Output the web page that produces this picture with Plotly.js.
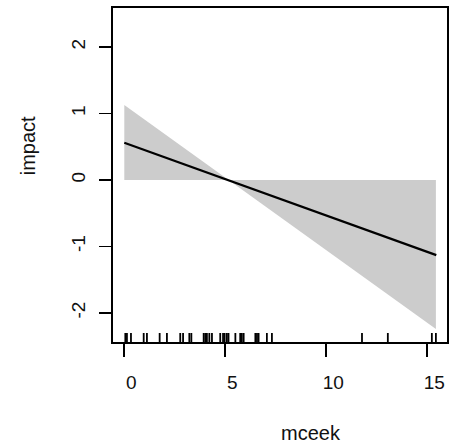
<!DOCTYPE html>
<html>
<head>
<meta charset="utf-8">
<script src="https://cdn.plot.ly/plotly-3.0.1.min.js"></script>
<style>html,body{margin:0;padding:0;background:#fff;}#chart{width:449px;height:446px;}</style>
</head>
<body>
<div id="chart"></div>
<script>
// Fitted line (mceek vs impact)
const fitX = [0, 15.45];
const fitY = [0.56, -1.13];
// Shaded band: between zero line and edge line
const bandX = [0, 15.43];
const bandBase = [0, 0];
const bandEdge = [1.13, -2.24];
// Rug (observed mceek values)
const rugX = [0.05, 0.13, 0.33, 0.96, 1.12, 1.75, 2.11, 2.77, 2.91, 3.22, 3.32,
  3.93, 4.01, 4.09, 4.21, 4.34, 4.75, 4.89, 4.97, 5.08, 5.16, 5.50, 5.74, 5.82,
  5.91, 6.49, 6.57, 6.65, 7.06, 7.31, 11.77, 13.05, 15.23, 15.43];
// Axis ticks
const xTicks = [0, 5, 10, 15];
const yTicks = [-2, -1, 0, 1, 2];
const xTitle = 'mceek';
const yTitle = 'impact';

const band = {
  x: bandX.concat(bandX.slice().reverse()),
  y: bandBase.concat(bandEdge.slice().reverse()),
  type: 'scatter', mode: 'lines', fill: 'toself',
  fillcolor: '#cccccc', line: {width: 0, color: 'rgba(0,0,0,0)'},
  hoverinfo: 'skip', showlegend: false
};
const fit = {
  x: fitX, y: fitY, type: 'scatter', mode: 'lines',
  line: {color: '#000', width: 2.2}, showlegend: false
};

const rugShapes = rugX.map(v => ({
  type: 'line', xref: 'x', yref: 'paper', x0: v, x1: v, y0: 0, y1: 0.027,
  line: {color: '#000', width: 1.8}
}));

const font = {family: 'Liberation Sans, Arial, sans-serif', color: '#111'};

const layout = {
  width: 449, height: 446,
  margin: {l: 112.7, r: 2.3, t: 8.3, b: 104.3},
  paper_bgcolor: '#fff', plot_bgcolor: '#fff',
  showlegend: false,
  font: Object.assign({size: 19}, font),
  xaxis: {
    range: [-0.56, 15.98], tickmode: 'array', tickvals: xTicks,
    ticktext: xTicks.map(String),
    showgrid: false, zeroline: false,
    showline: true, mirror: true, linecolor: '#000', linewidth: 1.8,
    ticks: 'outside', ticklen: 13, tickwidth: 1.8, tickcolor: '#000',
    tickfont: Object.assign({size: 19}, font),
    ticklabelshift: 7, ticklabelstandoff: 9
  },
  yaxis: {
    range: [-2.437, 2.588], tickmode: 'array', tickvals: yTicks,
    ticktext: yTicks.map(String),
    showgrid: false, zeroline: false,
    showline: true, mirror: true, linecolor: '#000', linewidth: 1.8,
    ticks: 'outside', ticklen: 12.7, tickwidth: 1.8, tickcolor: '#000',
    tickangle: -90,
    tickfont: Object.assign({size: 19}, font),
    ticklabelstandoff: 6
  },
  shapes: rugShapes,
  annotations: [
    {text: xTitle, xref: 'paper', yref: 'paper', x: 0.594, y: -0.271,
     xanchor: 'center', yanchor: 'middle', showarrow: false,
     font: Object.assign({size: 20}, font)},
    {text: yTitle, xref: 'paper', yref: 'paper', x: -0.2536, y: 0.587,
     xanchor: 'center', yanchor: 'middle', showarrow: false, textangle: -90,
     font: Object.assign({size: 20}, font)}
  ]
};

Plotly.newPlot('chart', [band, fit], layout, {displayModeBar: false, staticPlot: true});
</script>
</body>
</html>
